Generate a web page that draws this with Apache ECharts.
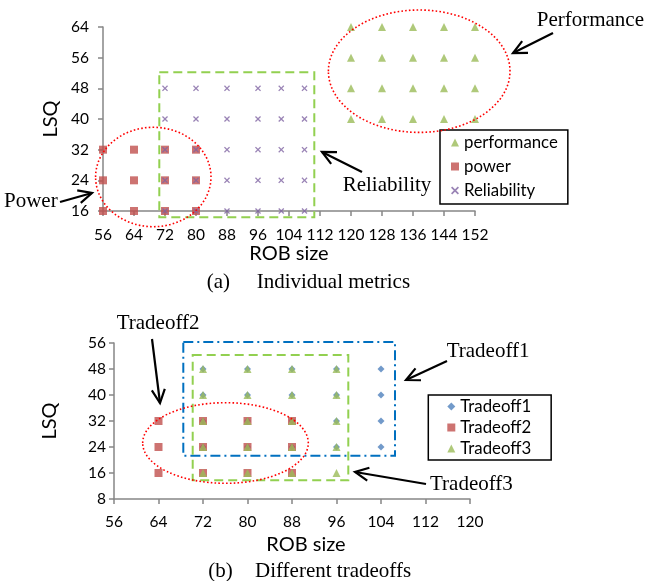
<!DOCTYPE html>
<html><head><meta charset="utf-8">
<script src="https://cdn.jsdelivr.net/npm/echarts@6/dist/echarts.min.js"></script>
<style>html,body{margin:0;padding:0;background:#fff}#c{width:646px;height:581px}</style>
</head><body><div id="c"></div>
<script>
// ---- Data ----
// (a) Individual metrics
const perfX = [120, 128, 136, 144, 152];
const perfY = [40, 48, 56, 64];
const powerX = [56, 64, 72, 80];
const powerY = [16, 24, 32];
const relX = [72, 80, 88, 96, 102, 108];
const relY = [16, 24, 32, 40, 48];
// (b) Different tradeoffs
const t1X = [72, 80, 88, 96, 104];
const t1Y = [24, 32, 40, 48];
const t2X = [64, 72, 80, 88];
const t2Y = [16, 24, 32];
const t3X = [72, 80, 88, 96];
const t3Y = [16, 24, 32, 40, 48];

function grid(xs, ys) { const out = []; xs.forEach(x => ys.forEach(y => out.push([x, y]))); return out; }

const C_GREEN = '#9BBB59', C_RED = '#C0504D', C_PURPLE = '#8064A2', C_BLUE = '#4F81BD';
const CROSS = 'path://M0,1.5 L1.5,0 L5,3.5 L8.5,0 L10,1.5 L6.5,5 L10,8.5 L8.5,10 L5,6.5 L1.5,10 L0,8.5 L3.5,5 Z';
const SANS = 'Lato';
const SERIF = 'Liberation Serif';
const TICK_FS = 15.5;

function axisCommon(extra) {
  return Object.assign({
    type: 'value',
    splitLine: { show: false },
    axisLine: { show: true, lineStyle: { color: '#868686', width: 1.5 } },
    axisTick: { show: true, length: 5, lineStyle: { color: '#868686', width: 1.5 } },
    axisLabel: { color: '#000', fontFamily: SANS, fontSize: TICK_FS },
    nameLocation: 'middle',
    nameTextStyle: { color: '#000', fontFamily: SANS, fontSize: 20 }
  }, extra);
}

const chart = echarts.init(document.getElementById('c'));

function arrow(x1, y1, x2, y2) {
  const ang = Math.atan2(y2 - y1, x2 - x1);
  const L = 15, a = 0.45;
  const p1 = [x2 - L * Math.cos(ang - a), y2 - L * Math.sin(ang - a)];
  const p2 = [x2 - L * Math.cos(ang + a), y2 - L * Math.sin(ang + a)];
  return [
    { type: 'line', shape: { x1, y1, x2, y2 }, style: { stroke: '#000', lineWidth: 2.2 }, z: 100 },
    { type: 'polyline', shape: { points: [p1, [x2, y2], p2] }, style: { stroke: '#000', lineWidth: 2.2, fill: null }, z: 100 }
  ];
}
function label(text, x, y) {
  return { type: 'text', x, y, style: { text, fill: '#000', font: '21px "' + SERIF + '"', textVerticalAlign: 'middle', textAlign: 'left' }, z: 100 };
}
function rect(x1, y1, x2, y2, color, dash) {
  return { type: 'rect', shape: { x: x1, y: y1, width: x2 - x1, height: y2 - y1 }, style: { stroke: color, lineWidth: 2, fill: null, lineDash: dash }, z: 90 };
}
function ellipse(cx, cy, rx, ry) {
  return { type: 'ellipse', shape: { cx, cy, rx, ry }, style: { stroke: '#FF0000', lineWidth: 1.6, fill: null, lineDash: [1.6, 2.2] }, z: 95 };
}

const graphics = [].concat(
  rect(159.3, 72.3, 314.3, 217.3, '#92D050', [9, 5]),
  ellipse(153.3, 177, 57.7, 49.7),
  ellipse(419.2, 71.2, 90.8, 61.2),
  label('Performance', 536.7, 20),
  arrow(553, 33, 513, 53),
  label('Reliability', 342.7, 185),
  arrow(362, 172, 322, 152),
  label('Power', 4, 201.7),
  arrow(60, 202, 92, 193),
  label('(a)', 206.7, 282.7),
  label('Individual metrics', 256.7, 282.7),
  rect(183.3, 342, 395, 455.7, '#0070C0', [10, 4, 2, 4]),
  rect(192.7, 355, 348.3, 480.3, '#92D050', [9, 5]),
  ellipse(225.5, 443, 82.8, 40.3),
  label('Tradeoff2', 116.7, 323),
  arrow(152, 339, 160, 403),
  label('Tradeoff1', 446.7, 351.7),
  arrow(447, 361, 406, 380),
  label('Tradeoff3', 430, 484.3),
  arrow(426, 484, 355, 472),
  label('(b)', 208.3, 571.7),
  label('Different tradeoffs', 255, 571.7)
);

const option = {
  animation: false,
  backgroundColor: '#fff',
  grid: [
    { left: 103, top: 27, width: 372, height: 184 },
    { left: 114, top: 343, width: 356, height: 156 }
  ],
  xAxis: [
    axisCommon({ gridIndex: 0, min: 56, max: 152, interval: 8, name: 'ROB size', nameGap: 33,
      axisLabel: { color: '#000', fontFamily: SANS, fontSize: TICK_FS, margin: 16 } }),
    axisCommon({ gridIndex: 1, min: 56, max: 120, interval: 8, name: 'ROB size', nameGap: 36,
      nameTextStyle: { color: '#000', fontFamily: SANS, fontSize: 20, padding: [0, 0, 0, 28] },
      axisLabel: { color: '#000', fontFamily: SANS, fontSize: TICK_FS, margin: 15 } })
  ],
  yAxis: [
    axisCommon({ gridIndex: 0, min: 16, max: 64, interval: 8, name: 'LSQ', nameGap: 42,
      axisLabel: { color: '#000', fontFamily: SANS, fontSize: TICK_FS, margin: 14 } }),
    axisCommon({ gridIndex: 1, min: 8, max: 56, interval: 8, name: 'LSQ', nameGap: 54,
      axisLabel: { color: '#000', fontFamily: SANS, fontSize: TICK_FS, margin: 8 } })
  ],
  legend: [
    { data: ['performance', 'power', 'Reliability'], orient: 'vertical', left: 440, top: 130,
      backgroundColor: '#fff', borderColor: '#000', borderWidth: 1.5, padding: [4, 10, 5, 11],
      itemWidth: 8, itemHeight: 8, itemGap: 7,
      textStyle: { fontFamily: SANS, fontSize: 16.8, color: '#000', lineHeight: 16 } },
    { data: ['Tradeoff1', 'Tradeoff2', 'Tradeoff3'], orient: 'vertical', left: 428.3, top: 395,
      backgroundColor: '#fff', borderColor: '#000', borderWidth: 1.5, padding: [3, 20, 3, 19],
      itemWidth: 8, itemHeight: 8, itemGap: 4,
      textStyle: { fontFamily: SANS, fontSize: 16.8, color: '#000', lineHeight: 16 } }
  ],
  series: [
    { name: 'performance', type: 'scatter', xAxisIndex: 0, yAxisIndex: 0, data: grid(perfX, perfY),
      symbol: 'triangle', symbolSize: 8, itemStyle: { color: C_GREEN } },
    { name: 'power', type: 'scatter', xAxisIndex: 0, yAxisIndex: 0, data: grid(powerX, powerY),
      symbol: 'rect', symbolSize: 8, itemStyle: { color: C_RED } },
    { name: 'Reliability', type: 'scatter', xAxisIndex: 0, yAxisIndex: 0, data: grid(relX, relY),
      symbol: CROSS, symbolSize: 6, itemStyle: { color: C_PURPLE } },
    { name: 'Tradeoff1', type: 'scatter', xAxisIndex: 1, yAxisIndex: 1, data: grid(t1X, t1Y),
      symbol: 'diamond', symbolSize: 7, itemStyle: { color: C_BLUE } },
    { name: 'Tradeoff2', type: 'scatter', xAxisIndex: 1, yAxisIndex: 1, data: grid(t2X, t2Y),
      symbol: 'rect', symbolSize: 8, itemStyle: { color: C_RED } },
    { name: 'Tradeoff3', type: 'scatter', xAxisIndex: 1, yAxisIndex: 1, data: grid(t3X, t3Y),
      symbol: 'triangle', symbolSize: 8, itemStyle: { color: C_GREEN } }
  ],
  graphic: graphics
};
chart.setOption(option);
</script></body></html>
